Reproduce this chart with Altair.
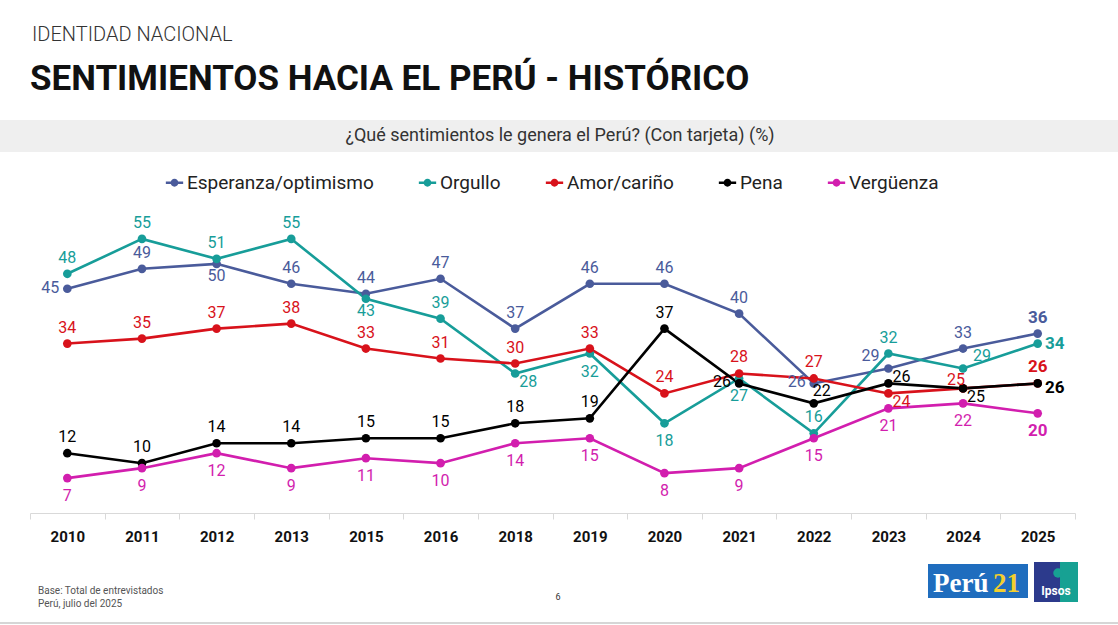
import altair as alt
import pandas as pd

# ---------------- data ----------------
years = ["2010", "2011", "2012", "2013", "2015", "2016", "2018",
         "2019", "2020", "2021", "2022", "2023", "2024", "2025"]
series = ["Esperanza/optimismo", "Orgullo", "Amor/cariño", "Pena", "Vergüenza"]
colors = ["#4A5B9B", "#179D99", "#D8121B", "#000000", "#D21EAE"]

esperanza = [45, 49, 50, 46, 44, 47, 37, 46, 46, 40, 26, 29, 33, 36]
orgullo = [48, 55, 51, 55, 43, 39, 28, 32, 18, 27, 16, 32, 29, 34]
amor = [34, 35, 37, 38, 33, 31, 30, 33, 24, 28, 27, 24, 25, 26]
pena = [12, 10, 14, 14, 15, 15, 18, 19, 37, 26, 22, 26, 25, 26]
verguenza = [7, 9, 12, 9, 11, 10, 14, 15, 8, 9, 15, 21, 22, 20]

# label placement codes (where each value label sits relative to its point)
pos_esperanza = ["l", "a", "b2", "a", "a", "a", "a", "a", "a", "a", "l", "al", "a", "a"]
pos_orgullo = ["a", "a", "a", "a", "b2", "a", "br", "b", "b", "b", "a", "a", "ar", "r"]
pos_amor = ["a", "a", "a", "a", "a", "a", "a", "a", "a", "a", "a", "br", "ul", "a"]
pos_pena = ["a", "a", "a", "a", "a", "a", "a", "a", "a", "l", "ar2", "r2", "br", "rd"]
pos_verguenza = ["b"] * 14

offsets = {
    "a": (0, -16), "b": (0, 18), "b2": (0, 12), "l": (-17, -1),
    "r": (17, 0), "rd": (17, 5), "al": (-18, -12), "ar": (19, -12),
    "ar2": (8, -12), "br": (13, 9), "ul": (-7, -8), "r2": (13, -6),
}

values = [esperanza, orgullo, amor, pena, verguenza]
places = [pos_esperanza, pos_orgullo, pos_amor, pos_pena, pos_verguenza]
rows = []
for s, vals, pl in zip(series, values, places):
    for y, v, p in zip(years, vals, pl):
        rows.append({"year": y, "serie": s, "valor": v, "pos": p,
                     "bold": y == years[-1]})
df = pd.DataFrame(rows)
one = pd.DataFrame({"k": [0]})

W, H = 1045, 299
X = alt.X("year:O", sort=years, bandPosition=0.5,
          scale=alt.Scale(type="band", paddingInner=0, paddingOuter=0),
          axis=alt.Axis(title=None, domainColor="#D9D9D9", domainWidth=1.2,
                        tickColor="#D9D9D9", tickBand="extent", tickSize=6,
                        labelPadding=10, labelFontSize=15, labelFontWeight="bold",
                        labelColor="#111", labelAngle=0, grid=False))
Y = alt.Y("valor:Q", scale=alt.Scale(domain=[0, 60]), axis=None)
color_scale = alt.Scale(domain=series, range=colors)

legend_path = ("M-1,-0.15H1V0.15H-1Z "
               "M0.45,0A0.45,0.45,0,1,1,-0.45,0A0.45,0.45,0,1,1,0.45,0Z")
legend = alt.Legend(orient="none", legendX=135, legendY=-41,
                    direction="horizontal", title=None,
                    symbolType=legend_path, symbolSize=300,
                    symbolStrokeWidth=0, labelFontSize=19, labelLimit=0,
                    labelColor="#222", labelOffset=3,
                    columnPadding=44, padding=0)
COLOR = alt.Color("serie:N", scale=color_scale, legend=legend)

base = alt.Chart(df)
lines = base.mark_line(strokeWidth=2.6).encode(
    x=X, y=Y, color=COLOR, detail="serie:N")
points = base.mark_point(filled=True, size=75, opacity=1).encode(
    x=X, y=Y, color=COLOR)

label_layers = []
for code, (dx, dy) in offsets.items():
    for bold in (False, True):
        lay = base.transform_filter(
            (alt.datum.pos == code) & (alt.datum.bold == bold)
        ).mark_text(dx=dx, dy=dy, fontSize=17 if bold else 16,
                    fontWeight="bold" if bold else "normal",
                    baseline="middle", align="center").encode(
            x=X, y=Y, text="valor:Q", color=COLOR)
        label_layers.append(lay)

c1 = alt.Chart(one)
band = c1.mark_rect(color="#EFEFEF").encode(
    x=alt.value(-30), x2=alt.value(1088), y=alt.value(-94), y2=alt.value(-62))
kicker = c1.mark_text(align="left", baseline="alphabetic", fontSize=20,
                      color="#333", fontWeight=300).encode(
    x=alt.value(2), y=alt.value(-173), text=alt.value("IDENTIDAD NACIONAL"))
title = c1.mark_text(align="left", baseline="alphabetic", fontSize=35,
                     color="#111", fontWeight="bold").encode(
    x=alt.value(0), y=alt.value(-124),
    text=alt.value("SENTIMIENTOS HACIA EL PERÚ - HISTÓRICO"))
subtitle = c1.mark_text(align="center", baseline="middle", fontSize=18,
                        color="#333").encode(
    x=alt.value(530), y=alt.value(-78),
    text=alt.value("¿Qué sentimientos le genera el Perú? (Con tarjeta) (%)"))
foot1 = c1.mark_text(align="left", baseline="middle", fontSize=10,
                     color="#555").encode(
    x=alt.value(8), y=alt.value(377), text=alt.value("Base: Total de entrevistados"))
foot2 = c1.mark_text(align="left", baseline="middle", fontSize=10,
                     color="#555").encode(
    x=alt.value(8), y=alt.value(390), text=alt.value("Perú, julio del 2025"))
page = c1.mark_text(align="center", baseline="middle", fontSize=9,
                    color="#333").encode(
    x=alt.value(528), y=alt.value(383), text=alt.value("6"))
bottom_line = c1.mark_rule(color="#C8C8C8", strokeWidth=1.5).encode(
    x=alt.value(-30), x2=alt.value(1088), y=alt.value(409))
peru_box = c1.mark_rect(color="#1F6DBE").encode(
    x=alt.value(898), x2=alt.value(998), y=alt.value(350), y2=alt.value(384))
peru_txt = c1.mark_text(align="left", baseline="alphabetic", fontSize=27,
                        font="Liberation Serif", fontWeight="bold", color="white").encode(
    x=alt.value(903), y=alt.value(378), text=alt.value("Perú"))
peru_21 = c1.mark_text(align="left", baseline="alphabetic", fontSize=27,
                       font="Liberation Serif", fontWeight="bold", color="#F3CF2E").encode(
    x=alt.value(963), y=alt.value(378), text=alt.value("21"))
ipsos_box = c1.mark_rect(color="#2C3A8C").encode(
    x=alt.value(1004), x2=alt.value(1048), y=alt.value(348), y2=alt.value(388))
ipsos_teal = c1.mark_rect(color="#17A193").encode(
    x=alt.value(1030), x2=alt.value(1048), y=alt.value(348), y2=alt.value(388))
ipsos_head = c1.mark_point(filled=True, color="#17A193", size=90, opacity=1).encode(
    x=alt.value(1028), y=alt.value(359))
ipsos_txt = c1.mark_text(align="center", baseline="alphabetic", fontSize=12,
                         fontWeight="bold", color="white").encode(
    x=alt.value(1026), y=alt.value(381), text=alt.value("Ipsos"))

chart = alt.layer(
    band, kicker, title, subtitle, lines, points, *label_layers,
    foot1, foot2, page, bottom_line, peru_box, peru_txt, peru_21,
    ipsos_box, ipsos_teal, ipsos_head, ipsos_txt
).properties(
    width=W, height=H,
    padding={"left": 30, "top": 214, "right": 43, "bottom": 112},
    autosize=alt.AutoSizeParams(type="none"),
    background="white",
).configure(font="Roboto").configure_view(stroke=None)

chart.save("out.html", embed_options={"renderer": "svg", "actions": False})
